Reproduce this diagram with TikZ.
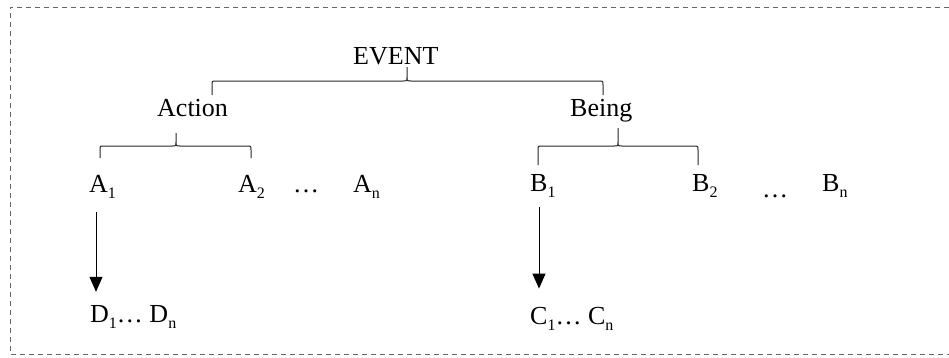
\documentclass[tikz,border=0pt]{standalone}
\usepackage{fontspec}
\setmainfont{Liberation Serif}
\usetikzlibrary{arrows.meta,calc}
\newcommand\sbx[1]{\raisebox{-6pt}{\fontsize{16}{16}\selectfont #1}}
\newcommand\mybrace[6]{% x1, x2, xm, y, ytop, ybot
  \draw[bracestyle] (#1,#6) -- (#1,#4+4) .. controls (#1,#4) .. (#1+4,#4)
    -- (#3-4,#4) .. controls (#3,#4) .. (#3,#4-4) -- (#3,#5)
    -- (#3,#4-4) .. controls (#3,#4) .. (#3+4,#4)
    -- (#2-4,#4) .. controls (#2,#4) .. (#2,#4+4) -- (#2,#6);}
\begin{document}
\begin{tikzpicture}[x=1pt,y=-1pt,
  lbl/.style={font=\fontsize{26}{30}\selectfont, inner sep=0pt, anchor=base west},
  bracestyle/.style={line width=1pt, black!85},
  arr/.style={line width=1pt, -{Triangle[width=13pt,length=15pt]}},
  frame/.style={line width=1pt, black!60, dash pattern=on 5pt off 4pt}]
\useasboundingbox (0,0) rectangle (949,357);
\draw[frame] (949,7) -- (10,7) -- (10,354) -- (949,354);

\node[lbl] (ev) at (353,64) {EVENT};
\node[lbl] (act) at (157,116) {Action};
\node[lbl] (bei) at (570,116) {Being};

\node[lbl] (a1) at (89,192) {A\sbx{1}};
\node[lbl] (a2) at (238,192) {A\sbx{2}};
\node[lbl] (ad) at (293,192) {…};
\node[lbl] (an) at (353,192) {A\sbx{n}};

\node[lbl] (b1) at (530,191) {B\sbx{1}};
\node[lbl] (b2) at (692,191) {B\sbx{2}};
\node[lbl] (bd) at (762,197) {…};
\node[lbl] (bn) at (822,191) {B\sbx{n}};

\node[lbl] (d) at (90,322) {D\sbx{1}… D\sbx{n}};
\node[lbl] (c) at (530,324) {C\sbx{1}… C\sbx{n}};

\mybrace{212}{603}{407}{81}{67}{95}
\mybrace{100}{251}{176}{146}{133}{158}
\mybrace{538}{698}{618}{146}{128}{165}

\draw[arr] ($(a1.south west)+(7,14)$) -- ($(d.north west)+(6,-13)$);
\draw[arr] ($(b1.south west)+(9,10)$) -- ($(c.north west)+(9,-18)$);
\end{tikzpicture}
\end{document}
